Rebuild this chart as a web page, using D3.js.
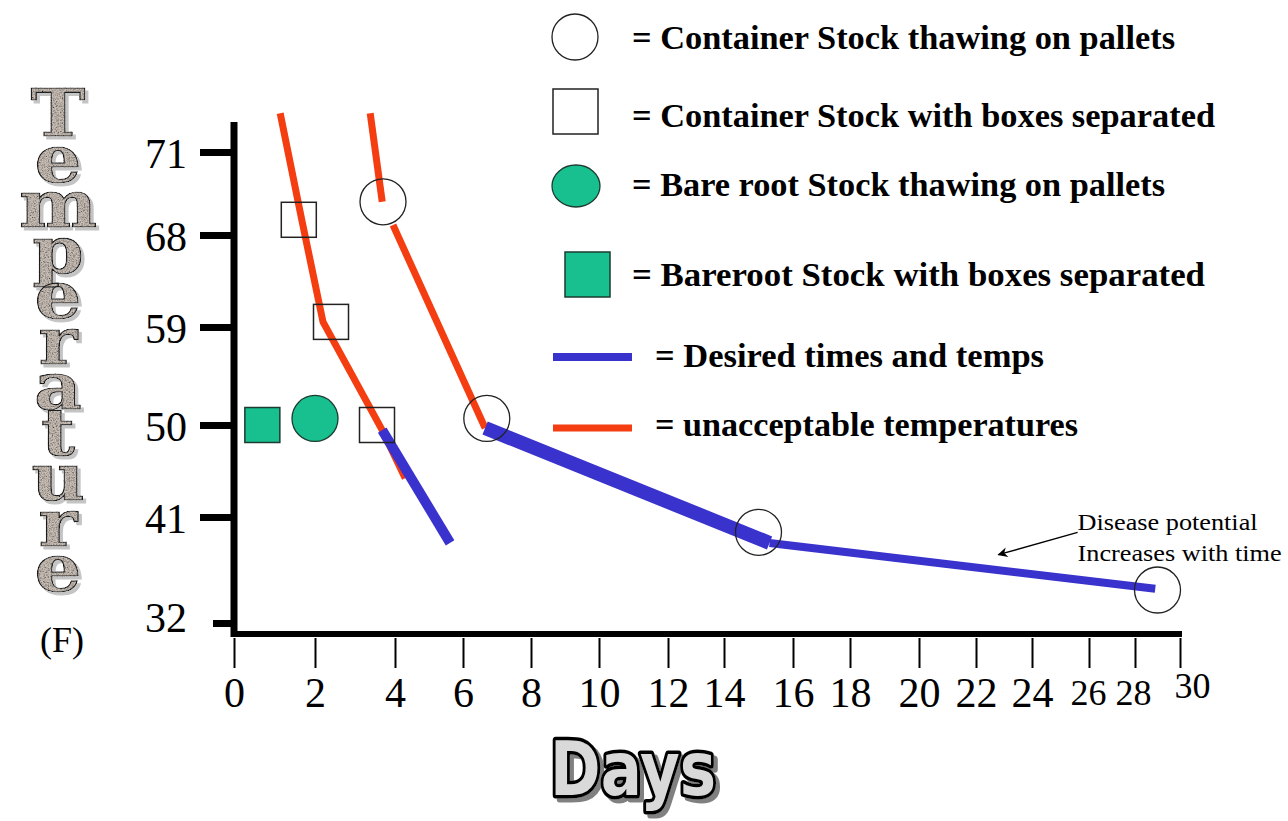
<!DOCTYPE html>
<html><head><meta charset="utf-8">
<script src="https://cdn.jsdelivr.net/npm/d3@7"></script>
<style>html,body{margin:0;padding:0;background:#fff;} svg{display:block;}</style>
</head><body>
<svg id="chart" width="1288" height="821"></svg>
<script>
// ---------------- DATA ----------------
const xTickValues = [0,2,4,6,8,10,12,14,16,18,20,22,24,26,28,30];
const yTickValues = [32,41,50,59,68,71];

const containerPallets   = [{day:3.7,temp:69.2},{day:6.7,temp:50.6},{day:15.0,temp:39.7},{day:29.0,temp:34.8}];
const containerSeparated = [{day:1.6,temp:68.55},{day:2.4,temp:59.5},{day:3.55,temp:50.0}];
const barerootPallets    = [{day:2.0,temp:50.6}];
const barerootSeparated  = [{day:0.7,temp:50.0}];

const unacceptableA  = [{day:1.14,temp:72.4},{day:1.68,temp:68.5},{day:2.2,temp:59.5},{day:3.68,temp:49.5},{day:4.3,temp:44.8}];
const unacceptableB1 = [{day:3.38,temp:72.4},{day:3.68,temp:69.2}];
const unacceptableB2 = [{day:3.95,temp:68.36},{day:6.65,temp:49.7}];
const desiredA = [{day:3.68,temp:49.5},{day:5.62,temp:38.8}];
const desiredB = [{day:6.65,temp:49.7},{day:15.32,temp:38.8}];
const desiredC = [{day:15.32,temp:38.8},{day:28.9,temp:34.9}];

const annotationArrow = [{day:25.6,temp:39.7},{day:22.8,temp:37.8}];
const annotationLines = ["Disease potential","Increases with time"];

const legendLabels = [
  "= Container Stock thawing on pallets",
  "= Container Stock with boxes separated",
  "= Bare root Stock thawing on pallets",
  "= Bareroot Stock  with boxes separated",
  "= Desired times and temps",
  "= unacceptable temperatures"
];
const yTitle = "Temperature";
const yUnit = "(F)";
const xTitle = "Days";

// ---------------- LAYOUT / STYLE ----------------
const RED = "#f53d12", BLUE = "#3a32cc", GREEN = "#17c08e";
const xRangePx = [234,315,395,463,531,599,668,724,793,850,919,976,1032,1089,1135,1180];
const yRangePx = [623,517,425,327,235,152];
const x = d3.scaleLinear().domain(xTickValues).range(xRangePx);
const y = d3.scaleLinear().domain(yTickValues).range(yRangePx);

const svg = d3.select("#chart");
const defs = svg.append("defs");

// granite-like texture + soft shadow for the Temperature title
const f = defs.append("filter").attr("id","granite").attr("x","-15%").attr("y","-5%").attr("width","140%").attr("height","110%");
f.append("feTurbulence").attr("type","fractalNoise").attr("baseFrequency","0.8").attr("numOctaves",3).attr("seed",7).attr("result","noise");
f.append("feColorMatrix").attr("in","noise").attr("type","matrix")
 .attr("values","0.33 0.33 0.33 0 0  0.33 0.33 0.33 0 0  0.33 0.33 0.33 0 0  0 0 0 0 1").attr("result","grey");
const ct = f.append("feComponentTransfer").attr("in","grey").attr("result","contrast");
["feFuncR","feFuncG","feFuncB"].forEach(n=>ct.append(n).attr("type","linear").attr("slope",3.0).attr("intercept",-0.7));
f.append("feBlend").attr("in","SourceGraphic").attr("in2","contrast").attr("mode","multiply").attr("result","blend");
f.append("feComposite").attr("in","blend").attr("in2","SourceAlpha").attr("operator","in").attr("result","tex");
f.append("feOffset").attr("in","SourceAlpha").attr("dx",3).attr("dy",3).attr("result","off");
f.append("feFlood").attr("flood-color","#c4c4c4").attr("result","fl");
f.append("feComposite").attr("in","fl").attr("in2","off").attr("operator","in").attr("result","shadow");
const fm = f.append("feMerge");
fm.append("feMergeNode").attr("in","shadow");
fm.append("feMergeNode").attr("in","tex");

// shadow for Days
const fd = defs.append("filter").attr("id","dayshadow").attr("x","-10%").attr("y","-10%").attr("width","130%").attr("height","130%");
fd.append("feOffset").attr("in","SourceAlpha").attr("dx",4).attr("dy",4).attr("result","off");
fd.append("feFlood").attr("flood-color","#808080").attr("result","fl");
fd.append("feComposite").attr("in","fl").attr("in2","off").attr("operator","in").attr("result","shadow");
const fdm = fd.append("feMerge");
fdm.append("feMergeNode").attr("in","shadow");
fdm.append("feMergeNode").attr("in","SourceGraphic");

// arrow marker
defs.append("marker").attr("id","arrow").attr("viewBox","0 0 10 10").attr("refX",9).attr("refY",5)
  .attr("markerWidth",14).attr("markerHeight",10).attr("markerUnits","userSpaceOnUse").attr("orient","auto")
  .append("path").attr("d","M0,0 L10,5 L0,10 L3,5 Z").attr("fill","#000");

// ---------- Axes ----------
const yAxisG = svg.append("g").attr("transform","translate(234,0)")
  .call(d3.axisLeft(y).tickValues(yTickValues).tickSize(34).tickSizeOuter(0).tickPadding(14).tickFormat(d3.format("d")));
yAxisG.select(".domain").remove();
yAxisG.selectAll(".tick line").attr("stroke","#000").attr("stroke-width",7)
  .attr("x2", d => d===32 ? -21 : -34);
yAxisG.selectAll(".tick text").attr("x",-47).attr("dy", d => d===32 ? "0.2em" : "0.36em")
  .attr("font-family","'Liberation Serif','Times New Roman',serif").attr("font-size",42).attr("fill","#000");

const xLabelStyle = {26:{size:36,y:71,dx:-1},28:{size:36,y:71,dx:-2},30:{size:36,y:64,dx:12}};
const xAxisG = svg.append("g").attr("transform","translate(0,634)")
  .call(d3.axisBottom(x).tickValues(xTickValues).tickSize(34).tickSizeOuter(0).tickFormat(d3.format("d")));
xAxisG.select(".domain").remove();
xAxisG.selectAll(".tick line").attr("stroke","#000").attr("stroke-width",2).attr("y1",4).attr("y2",34);
xAxisG.selectAll(".tick text")
  .attr("font-family","'Liberation Serif','Times New Roman',serif").attr("fill","#000")
  .attr("dy",0)
  .attr("font-size", d => (xLabelStyle[d]||{size:42}).size)
  .attr("y", d => (xLabelStyle[d]||{y:73}).y)
  .attr("dx", d => (xLabelStyle[d]||{dx:0}).dx);

// thick axis lines
svg.append("line").attr("x1",234).attr("x2",234).attr("y1",122).attr("y2",637).attr("stroke","#000").attr("stroke-width",7);
svg.append("line").attr("x1",231).attr("x2",1182).attr("y1",634).attr("y2",634).attr("stroke","#000").attr("stroke-width",6);

// ---------- Lines ----------
const line = d3.line().x(d=>x(d.day)).y(d=>y(d.temp));
const drawLine = (data, color, w) => svg.append("path").datum(data).attr("d",line)
  .attr("fill","none").attr("stroke",color).attr("stroke-width",w).attr("stroke-linejoin","round").attr("stroke-linecap","butt");
drawLine(unacceptableA, RED, 7);
drawLine(unacceptableB1, RED, 7);
drawLine(unacceptableB2, RED, 7);
drawLine(desiredA, BLUE, 10);
drawLine(desiredB, BLUE, 14);
drawLine(desiredC, BLUE, 8);

// ---------- Symbols ----------
svg.append("g").selectAll("circle").data(containerPallets).join("circle")
  .attr("cx",d=>x(d.day)).attr("cy",d=>y(d.temp)).attr("r",23)
  .attr("fill","none").attr("stroke","#222").attr("stroke-width",1.3);
svg.append("g").selectAll("rect").data(containerSeparated).join("rect")
  .attr("x",d=>x(d.day)-17.5).attr("y",d=>y(d.temp)-17.5).attr("width",35).attr("height",35)
  .attr("fill","none").attr("stroke","#222").attr("stroke-width",1.5);
svg.append("g").selectAll("circle").data(barerootPallets).join("circle")
  .attr("cx",d=>x(d.day)).attr("cy",d=>y(d.temp)).attr("r",23)
  .attr("fill",GREEN).attr("stroke","#1d3b30").attr("stroke-width",1.3);
svg.append("g").selectAll("rect").data(barerootSeparated).join("rect")
  .attr("x",d=>x(d.day)-17.5).attr("y",d=>y(d.temp)-17.5).attr("width",35).attr("height",35)
  .attr("fill",GREEN).attr("stroke","#1d3b30").attr("stroke-width",1.5);

// ---------- Annotation ----------
svg.append("path").datum(annotationArrow).attr("d",line).attr("fill","none")
  .attr("stroke","#000").attr("stroke-width",1.4).attr("marker-end","url(#arrow)");
const a0 = annotationArrow[0];
svg.append("g").selectAll("text").data(annotationLines).join("text")
  .attr("x", x(a0.day)).attr("y",(d,i)=>y(a0.temp) - 2 + i*31)
  .attr("font-family","'Liberation Serif','Times New Roman',serif").attr("font-size",23).attr("fill","#000")
  .attr("textLength",(d,i)=> i===0?180:204).attr("lengthAdjust","spacingAndGlyphs")
  .text(d=>d);

// ---------- Legend ----------
const legendRows = [
  {type:"openCircle", cx:575, cy:37, tx:632, ty:49, tw:543},
  {type:"openSquare", sx:553, sy:89, tx:632, ty:127, tw:583},
  {type:"greenEllipse", cx:576, cy:186, tx:632, ty:196, tw:533},
  {type:"greenSquare", sx:565, sy:252, tx:632, ty:286, tw:573},
  {type:"blueLine", lx1:553, lx2:632, ly:357, tx:655, ty:367, tw:389},
  {type:"redLine", lx1:553, lx2:632, ly:428, tx:655, ty:436, tw:423}
];
const lg = svg.append("g");
legendRows.forEach((r,i)=>{
  if(r.type==="openCircle") lg.append("ellipse").attr("cx",r.cx).attr("cy",r.cy).attr("rx",23).attr("ry",23).attr("fill","none").attr("stroke","#222").attr("stroke-width",1.3);
  if(r.type==="openSquare") lg.append("rect").attr("x",r.sx).attr("y",r.sy).attr("width",45).attr("height",45).attr("fill","none").attr("stroke","#222").attr("stroke-width",1.5);
  if(r.type==="greenEllipse") lg.append("ellipse").attr("cx",r.cx).attr("cy",r.cy).attr("rx",24).attr("ry",21).attr("fill",GREEN).attr("stroke","#1d3b30").attr("stroke-width",1.3);
  if(r.type==="greenSquare") lg.append("rect").attr("x",r.sx).attr("y",r.sy).attr("width",45).attr("height",45).attr("fill",GREEN).attr("stroke","#1d3b30").attr("stroke-width",1.5);
  if(r.type==="blueLine") lg.append("line").attr("x1",r.lx1).attr("x2",r.lx2).attr("y1",r.ly).attr("y2",r.ly).attr("stroke",BLUE).attr("stroke-width",8);
  if(r.type==="redLine") lg.append("line").attr("x1",r.lx1).attr("x2",r.lx2).attr("y1",r.ly).attr("y2",r.ly).attr("stroke",RED).attr("stroke-width",7);
  lg.append("text").attr("x",r.tx).attr("y",r.ty)
    .attr("font-family","'Liberation Serif','Times New Roman',serif").attr("font-weight","bold").attr("font-size",34)
    .attr("textLength",r.tw).attr("lengthAdjust","spacingAndGlyphs").attr("fill","#000")
    .text(legendLabels[i]);
});

// ---------- Y title (vertical upright stacked letters, one text) ----------
const yt = svg.append("text").attr("x",0).attr("y",0)
  .attr("transform","translate(58,0) scale(1.12,1)")
  .attr("font-family","'DejaVu Serif',serif").attr("font-weight","bold").attr("font-size",66)
  .style("writing-mode","vertical-rl").style("text-orientation","upright")
  .attr("fill","#c9bfb6").attr("stroke","#222").attr("stroke-width",1.2)
  .attr("filter","url(#granite)").text(yTitle);
// fit the letter pitch to 45.5 px and place the first letter near the top
const natural = yt.node().getComputedTextLength();
const pitch = 45.5, n = yTitle.length;
yt.style("letter-spacing", ((pitch*n - natural)/n) + "px");
let bb = yt.node().getBBox();
yt.attr("y", 74 - bb.y);

svg.append("text").attr("x",62).attr("y",652).attr("text-anchor","middle")
  .attr("font-family","'Liberation Serif','Times New Roman',serif").attr("font-size",36).attr("fill","#000").text(yUnit);

// ---------- X title ----------
svg.append("text").attr("x",633).attr("y",795).attr("text-anchor","middle")
  .attr("font-family","'DejaVu Sans',sans-serif").attr("font-weight","bold").attr("font-size",74)
  .attr("textLength",166).attr("lengthAdjust","spacingAndGlyphs")
  .attr("fill","#d9d9d9").attr("stroke","#000").attr("stroke-width",7).attr("stroke-linejoin","round")
  .attr("paint-order","stroke").attr("filter","url(#dayshadow)").text(xTitle);
</script>
</body></html>
